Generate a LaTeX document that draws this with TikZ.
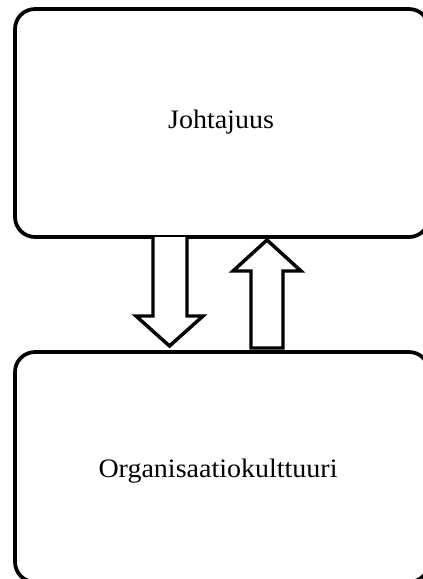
\documentclass[tikz,border=0pt]{standalone}
\usepackage{fontspec}
\setmainfont{Liberation Serif}
\begin{document}
\begin{tikzpicture}[x=0.75pt,y=-0.75pt,
  box/.style={draw=black, line width=2.8pt, rounded corners=15pt},
  blockarrow/.style={draw=black, fill=white, line width=2.6pt, line join=miter},
  label/.style={font=\fontsize{20pt}{23pt}\selectfont, anchor=base, inner sep=0pt}]
  \useasboundingbox (0,0) rectangle (422,579);
  % the two boxes (their right sides run past the page edge)
  \draw[box] (15,9) rectangle (429,237);
  \draw[box] (15,352) rectangle (429,582);
  % labels
  \node[label] (lead) at (221,128) {\scalebox{1.05}[1]{Johtajuus}};
  \node[label] (culture) at (218,477) {\scalebox{1.05}[1]{Organisaatiokulttuuri}};
  % downward block arrow
  \draw[blockarrow] (153,237) -- (153,316) -- (136,316) -- (169.5,346)
    -- (203,316) -- (187,316) -- (187,237);
  % upward block arrow
  \draw[blockarrow] (251,348) -- (251,271) -- (233,271) -- (267,240)
    -- (301,271) -- (283,271) -- (283,348) -- cycle;
\end{tikzpicture}
\end{document}
